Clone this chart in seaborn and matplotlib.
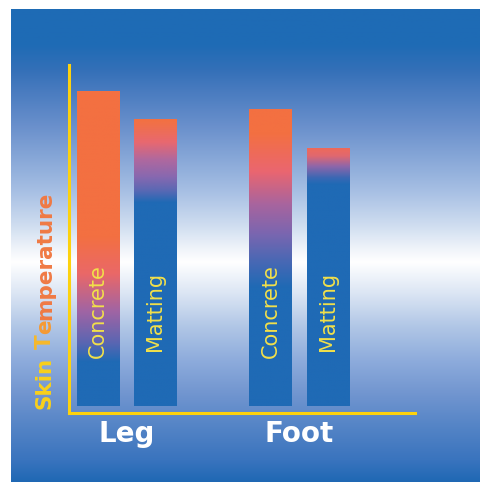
import numpy as np
import pandas as pd
import seaborn as sns
import matplotlib.pyplot as plt
from matplotlib.colors import to_rgb

# Data
groups = ["Leg", "Leg", "Foot", "Foot"]
surfaces = ["Concrete", "Matting", "Concrete", "Matting"]
skin_temp = [31.5, 28.7, 29.7, 25.8]
group_order = ["Leg", "Foot"]
surface_order = ["Concrete", "Matting"]

sns.set_style("white")

W, H = 481, 482
fig = plt.figure(figsize=(W / 100, H / 100), dpi=100)
fig.patch.set_facecolor("white")

ORANGE = "#F37041"
BLUE = "#1F6AB5"
AXIS_YELLOW = "#FDD20E"
LABEL_YELLOW = "#F2E04A"


def ramp(stops, n=512):
    pos = np.array([s[0] for s in stops])
    cols = np.array([to_rgb(s[1]) for s in stops])
    t = np.linspace(0, 1, n)
    return np.stack([np.interp(t, pos, cols[:, i]) for i in range(3)], axis=-1)


# Background panel: blue at top and bottom, white band in the middle
bg_stops_px = [(9, "#1E6BB5"), (45, "#1F6BB5"), (70, "#3470B8"), (92, "#4A7CC0"),
               (126, "#6A90CC"), (159, "#88A8D8"), (192, "#A8C0E4"), (226, "#D0DEF0"),
               (249, "#F0F4FA"), (262, "#FFFFFF"), (293, "#DCE6F4"), (327, "#B0C6E6"),
               (360, "#8EACDC"), (393, "#7296D0"), (427, "#5484C6"), (460, "#3A74BE"),
               (482, "#1F68B4")]
bg_stops = [((y - 9) / (H - 9), c) for y, c in bg_stops_px]
bg = fig.add_axes([11 / W, 0, (W - 11) / W, (H - 9) / H])
bg.imshow(ramp(bg_stops)[:, None, :], aspect="auto", extent=(0, 1, 0, 1), origin="upper")
bg.axis("off")

# Main chart area
ax = fig.add_axes([68.5 / W, (H - 413) / H, (415 - 68.5) / W, (413 - 65) / H])
ax.set_facecolor("none")

df = pd.DataFrame({"group": groups, "surface": surfaces, "skin_temp": skin_temp})
sns.barplot(data=df, x="group", y="skin_temp", hue="surface", order=group_order,
            hue_order=surface_order, palette=[ORANGE, BLUE], saturation=1,
            width=0.666, gap=0.26, errorbar=None, legend=False, ax=ax,
            edgecolor="none", linewidth=0)

# Vertical colour ramps for each bar (fraction measured from the bar top)
bar_ramps = {
    ("Leg", "Concrete"): [(0, ORANGE), (0.46, ORANGE), (0.58, "#EA6868"), (0.70, "#A064A4"),
                          (0.80, "#5A66B2"), (0.86, BLUE), (1, BLUE)],
    ("Leg", "Matting"): [(0, ORANGE), (0.02, "#F0704A"), (0.08, "#E86870"), (0.14, "#B0689E"),
                         (0.20, "#8868B0"), (0.25, "#5868B4"), (0.29, BLUE), (1, BLUE)],
    ("Foot", "Concrete"): [(0, ORANGE), (0.08, ORANGE), (0.21, "#EA6670"), (0.32, "#A8649E"),
                           (0.42, "#7A66B0"), (0.51, "#4A68B4"), (0.60, BLUE), (1, BLUE)],
    ("Foot", "Matting"): [(0, "#EE6A5A"), (0.03, "#E06870"), (0.07, "#8E66AA"),
                          (0.115, "#3A68B4"), (0.14, BLUE), (1, BLUE)],
}

for bar in list(ax.patches):
    x0, y0 = bar.get_x(), bar.get_y()
    w, h = bar.get_width(), bar.get_height()
    if w == 0 or h == 0:
        continue
    cx = x0 + w / 2
    gi = int(round(cx))
    grp = group_order[gi]
    surf = surface_order[0] if cx < gi else surface_order[1]
    img = ramp(bar_ramps[(grp, surf)])[:, None, :]
    im = ax.imshow(img, extent=(x0, x0 + w, y0, y0 + h), aspect="auto",
                   origin="upper", zorder=bar.get_zorder() + 0.1)
    im.set_clip_path(bar)
    bar.set_facecolor("none")
    ax.text(cx, 9.5, surf, rotation=90, ha="center", va="center",
            color=LABEL_YELLOW, fontsize=15, zorder=5)

ax.set_xlim(-0.337, 1.669)
ax.set_ylim(-0.7, 34.1)

# Axes styling
for side in ["top", "right"]:
    ax.spines[side].set_visible(False)
for side in ["left", "bottom"]:
    ax.spines[side].set_color(AXIS_YELLOW)
    ax.spines[side].set_linewidth(2.2)
ax.set_yticks([])
ax.set_xticks([0, 1], group_order)
ax.tick_params(axis="x", length=0, pad=5, labelsize=20, labelcolor="white")
for lab in ax.get_xticklabels():
    lab.set_fontweight("bold")
ax.set_xlabel("")
ax.set_ylabel("")

# Y-axis title, coloured piece by piece from yellow to orange
pieces = [("Skin", "#F9D01A"), ("\u00a0", "#F9D01A"), ("T", "#F7B82A"), ("e", "#F59A34"),
          ("mperature", "#F07A44")]
prev = ax.text(-0.068, 0.012, pieces[0][0], transform=ax.transAxes, rotation=90,
               ha="center", va="bottom", color=pieces[0][1], fontsize=15.5,
               fontweight="bold")
for txt, col in pieces[1:]:
    prev = ax.annotate(txt, xy=(0.5, 1.0), xycoords=prev, rotation=90,
                       ha="center", va="bottom", color=col, fontsize=15.5,
                       fontweight="bold")

fig.savefig("out.png", dpi=100)
